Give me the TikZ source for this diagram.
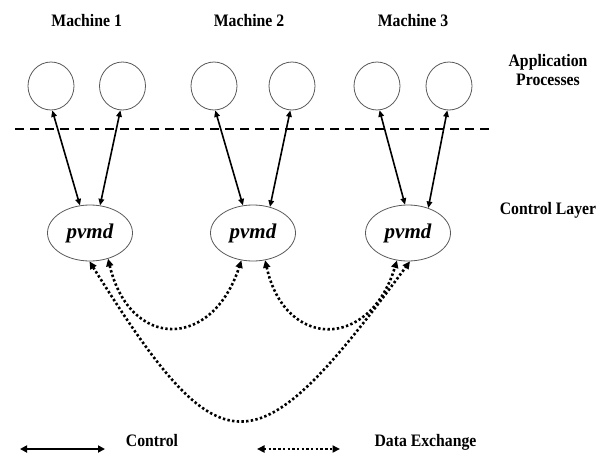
\documentclass[tikz,border=0pt]{standalone}
\usepackage{fontspec}
\setmainfont{Liberation Serif}
\newfontfamily\lblfont{Liberation Serif}[FakeStretch=0.9]
\usetikzlibrary{arrows.meta,shapes.geometric}

\tikzset{
  lbl/.style={font=\lblfont\bfseries\fontsize{17.5}{20}\selectfont, anchor=base, inner sep=0pt},
  proc/.style={ellipse, draw=black!65, line width=0.8pt, minimum width=46pt, minimum height=48pt, inner sep=0pt},
  daemon/.style={ellipse, draw=black!65, line width=0.8pt, minimum width=85pt, minimum height=56pt, inner sep=0pt,
    font=\bfseries\itshape\fontsize{21}{24}\selectfont},
  ctl/.style={line width=1.6pt, {Triangle[length=6.5pt,width=5.5pt]}-{Triangle[length=6.5pt,width=5.5pt]}},
  dat/.style={line width=2.6pt, dash pattern=on 2.4pt off 2.3pt,
    {Triangle[length=7.5pt,width=7pt]}-{Triangle[length=7.5pt,width=7pt]}},
  sep/.style={line width=2.2pt, dash pattern=on 9pt off 6pt}
}

\begin{document}
\begin{tikzpicture}[x=1pt, y=-1pt]
  \useasboundingbox (0,0) rectangle (608,456);

  % machine headings
  \node[lbl] (m1) at (86.7,26.7) {Machine 1};
  \node[lbl] (m2) at (249,26.7) {Machine 2};
  \node[lbl] (m3) at (413,26.7) {Machine 3};

  % layer labels
  \node[lbl] (app1) at (548,66.7) {Application};
  \node[lbl] (app2) at (548,85.7) {Processes};
  \node[lbl] (ctlayer) at (548,214) {Control Layer};

  % application processes
  \node[proc] (c1) at (51,86) {};
  \node[proc] (c2) at (122.5,86) {};
  \node[proc] (c3) at (214,86) {};
  \node[proc] (c4) at (292,86) {};
  \node[proc] (c5) at (377,86) {};
  \node[proc] (c6) at (449,86) {};

  % layer separator
  \coordinate (sepL) at (15,129);
  \coordinate (sepR) at (492,129);
  \draw[sep] (sepL) -- (sepR);

  % daemons
  \node[daemon] (e1) at (90,233) {pvmd};
  \node[daemon] (e2) at (253,233) {pvmd};
  \node[daemon] (e3) at (408,233) {pvmd};

  % control links
  \draw[ctl] (c1.-87) -- (e1.110);
  \draw[ctl] (c2.-95) -- (e1.70);
  \draw[ctl] (c3.-87) -- (e2.110);
  \draw[ctl] (c4.-94) -- (e2.57);
  \draw[ctl] (c5.-84) -- (e3.96);
  \draw[ctl] (c6.-94) -- (e3.51);

  % data exchange links between daemons
  \draw[dat] (e1.-55) .. controls (130,350) and (212,350) .. (e2.-113);
  \draw[dat] (e2.-66) .. controls (285,350) and (370,350) .. (e3.-112);
  \draw[dat] (e1.-91) .. controls (222,473) and (254,473) .. (e3.-86);

  % legend
  \coordinate (ctlL) at (20,449);
  \coordinate (ctlR) at (105,449);
  \coordinate (datL) at (257,449);
  \coordinate (datR) at (340,449);
  \draw[line width=2.2pt, {Triangle[length=7pt,width=7pt]}-{Triangle[length=7pt,width=7pt]}] (ctlL) -- (ctlR);
  \draw[dat] (datL) -- (datR);
  \node[lbl] (lgc) at (152,446) {Control};
  \node[lbl] (lgd) at (425.5,446) {Data Exchange};
\end{tikzpicture}
\end{document}
